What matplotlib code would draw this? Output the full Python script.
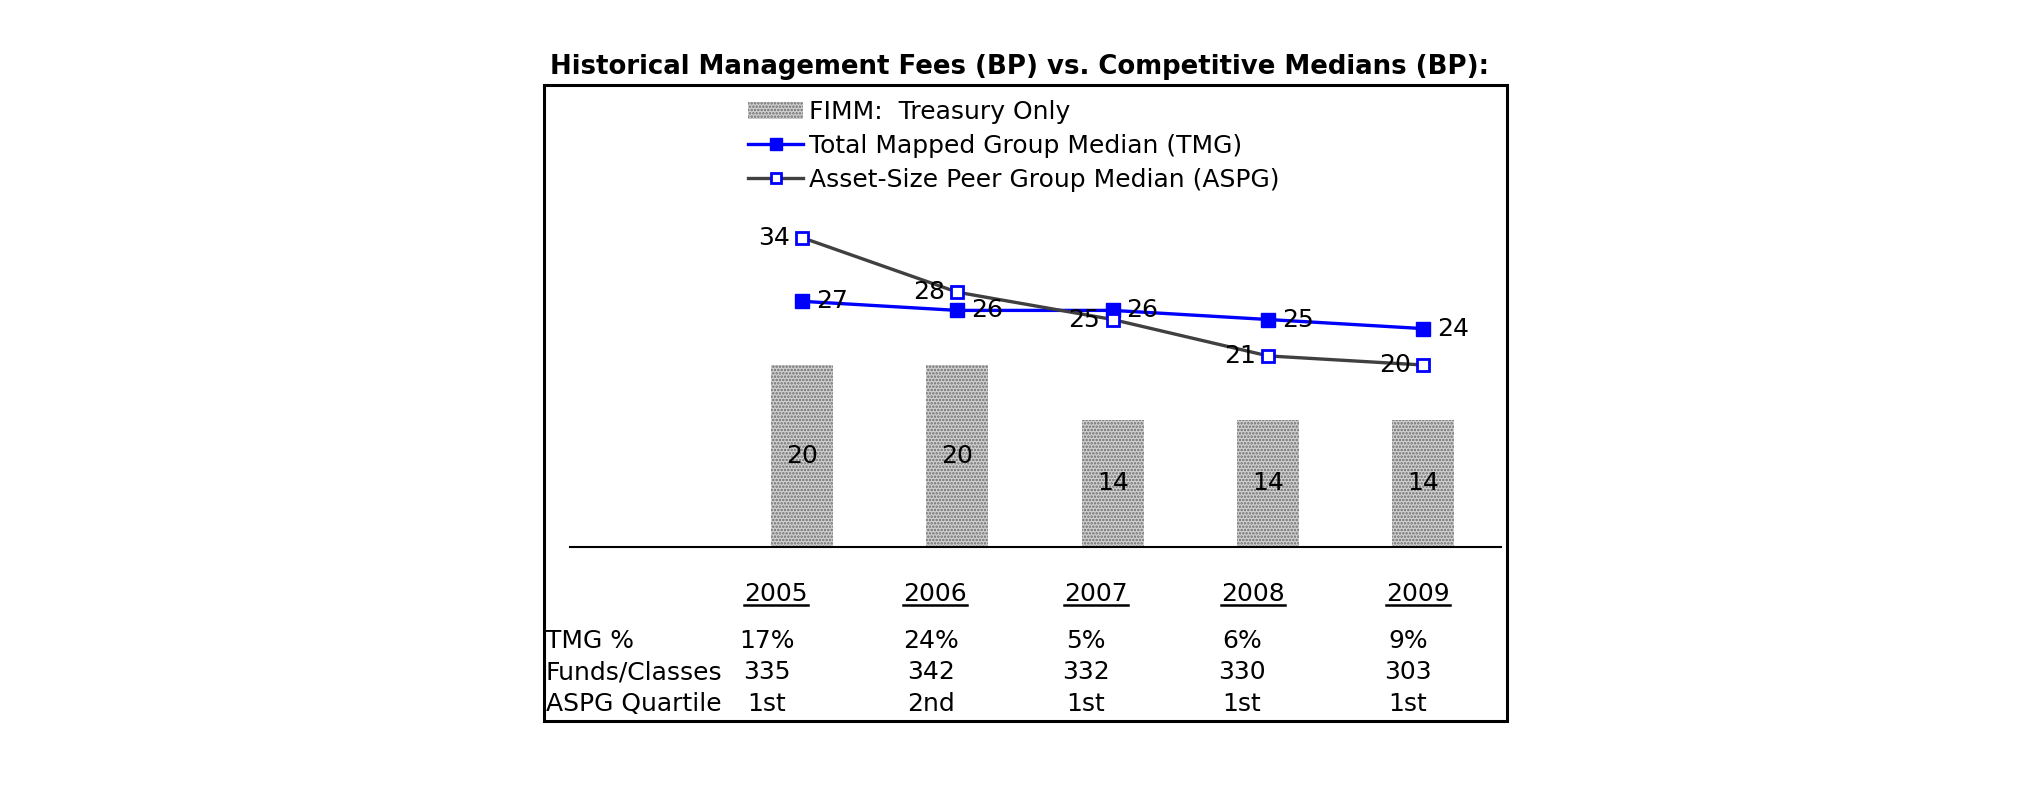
import matplotlib.pyplot as plt
from matplotlib.lines import Line2D
from matplotlib.patches import Patch, Rectangle

# data
years = ["2005", "2006", "2007", "2008", "2009"]
fimm = [20, 20, 14, 14, 14]
tmg = [27, 26, 26, 25, 24]
aspg = [34, 28, 25, 21, 20]
tmg_pct = ["17%", "24%", "5%", "6%", "9%"]
funds = ["335", "342", "332", "330", "303"]
quartile = ["1st", "2nd", "1st", "1st", "1st"]
row_names = ["TMG %", "Funds/Classes", "ASPG Quartile"]

W, H = 2025, 806
fig = plt.figure(figsize=(W / 100, H / 100), dpi=100)
plt.rcParams['font.family'] = 'DejaVu Sans'
plt.rcParams['hatch.linewidth'] = 1.2
FS = 18

def fx(px):
    return px / W

def fy(py):
    return 1 - py / H

# outer frame
fig.patches.append(Rectangle((fx(544), fy(721)), fx(1507) - fx(544), fy(85) - fy(721),
                             transform=fig.transFigure, fill=False, edgecolor='black', linewidth=2.2))
fig.text(fx(550), fy(67), "Historical Management Fees (BP) vs. Competitive Medians (BP):",
         fontsize=18.7, fontweight='bold', ha='left', va='center')

ax = fig.add_axes([fx(570), fy(547), fx(1501) - fx(570), fy(85) - fy(547)])
x = list(range(len(years)))
ax.set_xlim(-1.494, 4.50)
ax.set_ylim(0, 50.77)
for s in ['top', 'left', 'right']:
    ax.spines[s].set_visible(False)
ax.spines['bottom'].set_linewidth(1.5)
ax.set_xticks([])
ax.set_yticks([])
ax.patch.set_alpha(0)

bar_face = '#d0d0d0'
bar_hatch = '.....'
bar_edge = '#6c6c6c'
ax.bar(x, fimm, width=0.40, color=bar_face, hatch=bar_hatch, edgecolor=bar_edge, linewidth=0)
for xi, v in zip(x, fimm):
    ax.text(xi, v / 2, str(v), ha='center', va='center', fontsize=FS)

ax.plot(x, tmg, color='#0000ff', linewidth=2.4, marker='s', markersize=10,
        markerfacecolor='#0000ff', markeredgecolor='#0000ff', zorder=3)
ax.plot(x, aspg, color='#404040', linewidth=2.4, marker='s', markersize=8.5,
        markerfacecolor='white', markeredgecolor='#0000ff', markeredgewidth=2, zorder=4)

for xi, v in zip(x, tmg):
    ax.annotate(str(v), (xi, v), xytext=(10, 0), textcoords='offset points',
                ha='left', va='center', fontsize=FS, zorder=5)
for xi, v in zip(x, aspg):
    ax.annotate(str(v), (xi, v), xytext=(-9, 0), textcoords='offset points',
                ha='right', va='center', fontsize=FS, zorder=5)

handles = [
    Patch(facecolor=bar_face, hatch=bar_hatch, edgecolor=bar_edge, linewidth=0),
    Line2D([], [], color='#0000ff', linewidth=2.4, marker='s', markersize=8,
           markerfacecolor='#0000ff', markeredgecolor='#0000ff'),
    Line2D([], [], color='#404040', linewidth=2.4, marker='s', markersize=7,
           markerfacecolor='white', markeredgecolor='#0000ff', markeredgewidth=2),
]
labels = ["FIMM:  Treasury Only", "Total Mapped Group Median (TMG)",
          "Asset-Size Peer Group Median (ASPG)"]
fig.legend(handles, labels, loc='upper left', bbox_to_anchor=(fx(748), fy(100)),
           frameon=False, fontsize=FS, handlelength=2.2, handleheight=0.7,
           handletextpad=0.25, labelspacing=0.40, borderaxespad=0, borderpad=0)

# table under the chart
year_x = [776, 935, 1096, 1253, 1418]
col_x = [767, 931, 1086, 1242, 1408]
row_y = [641, 672, 704]
year_texts = []
for xp, yr in zip(year_x, years):
    year_texts.append(fig.text(fx(xp), fy(594), yr, ha='center', va='center', fontsize=FS))
for name, yp in zip(row_names, row_y):
    fig.text(fx(546), fy(yp), name, ha='left', va='center', fontsize=FS)
for row, yp in zip([tmg_pct, funds, quartile], row_y):
    for xp, val in zip(col_x, row):
        fig.text(fx(xp), fy(yp), val, ha='center', va='center', fontsize=FS)

# underline the year headers
fig.canvas.draw()
renderer = fig.canvas.get_renderer()
for t in year_texts:
    bb = t.get_window_extent(renderer)
    yl = bb.y0 + 1
    fig.add_artist(Line2D([bb.x0 / W, bb.x1 / W], [yl / H, yl / H],
                          transform=fig.transFigure, color='black', linewidth=1.8))

fig.savefig('out.png', dpi=100)
